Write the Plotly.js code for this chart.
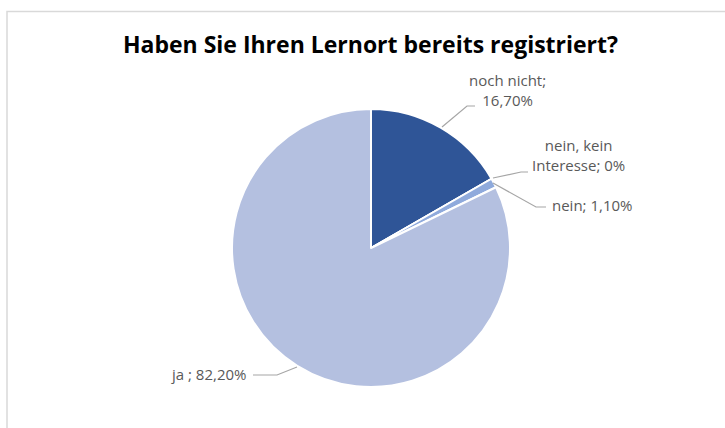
<!DOCTYPE html>
<html><head><meta charset="utf-8">
<script src="https://cdn.plot.ly/plotly-3.0.1.min.js"></script>
<style>html,body{margin:0;padding:0;background:#fff;}#chart{width:725px;height:428px;}</style>
</head><body><div id="chart"></div>
<script>
const categories = ["noch nicht", "nein, kein Interesse", "nein", "ja"];
const values = [16.7, 0, 1.1, 82.2];
const labelTexts = ["noch nicht;<br>16,70%", "nein, kein<br>Interesse; 0%", "nein; 1,10%", "ja ; 82,20%"];
const colors = ["#2F5597", "#4472C4", "#8FAADC", "#B4C0E0"];

const W = 725, H = 428;
const cx = 371, cy = 248, r = 139;
const px = x => x / W, py = y => 1 - y / H;

const trace = {
  type: "pie",
  labels: categories,
  values: values,
  sort: false,
  direction: "clockwise",
  rotation: 0,
  textinfo: "none",
  hoverinfo: "label+percent",
  marker: {colors: colors, line: {color: "#ffffff", width: 2}},
  domain: {x: [px(cx - r), px(cx + r)], y: [py(cy + r), py(cy - r)]},
  showlegend: false
};

// label placement (positions only, texts from labelTexts)
const labelPos = [
  {x: 507, y: 90},
  {x: 578, y: 155},
  {x: 592, y: 205},
  {x: 209, y: 374}
];
const leaders = [
  [[442,127],[467,106],[475,106]],
  [[493,178],[521,172],[528,172]],
  [[493,183],[536,207],[546,207]],
  [[297,367],[277,375],[253,375]]
];

const annotations = labelTexts.map((t, i) => ({
  xref: "paper", yref: "paper", x: px(labelPos[i].x), y: py(labelPos[i].y),
  xanchor: "center", yanchor: "middle", text: t, showarrow: false, align: "center",
  font: {family: "Open Sans, Liberation Sans, sans-serif", size: 15, color: "#595959"}
}));

const shapes = [{
  type: "rect", xref: "paper", yref: "paper",
  x0: px(7), x1: px(740), y0: py(450), y1: py(11.5),
  line: {color: "#D9D9D9", width: 1.5}, fillcolor: "rgba(0,0,0,0)", layer: "below"
}];
leaders.forEach(pts => {
  let d = pts.map((p, j) => (j ? "L" : "M") + px(p[0]) + "," + py(p[1])).join(" ");
  shapes.push({type: "path", xref: "paper", yref: "paper", path: d, line: {color: "#A6A6A6", width: 1.2}});
});

const layout = {
  width: W, height: H,
  margin: {l: 0, r: 0, t: 0, b: 0},
  paper_bgcolor: "#ffffff",
  title: {
    text: "<b>Haben Sie Ihren Lernort bereits registriert?</b>",
    x: 0.511, xanchor: "center", y: 1 - 45/H, yanchor: "middle",
    font: {family: "Open Sans, Lato, sans-serif", size: 23, color: "#000000"}
  },
  annotations: annotations,
  shapes: shapes
};

Plotly.newPlot("chart", [trace], layout, {displayModeBar: false, staticPlot: true});
</script></body></html>
